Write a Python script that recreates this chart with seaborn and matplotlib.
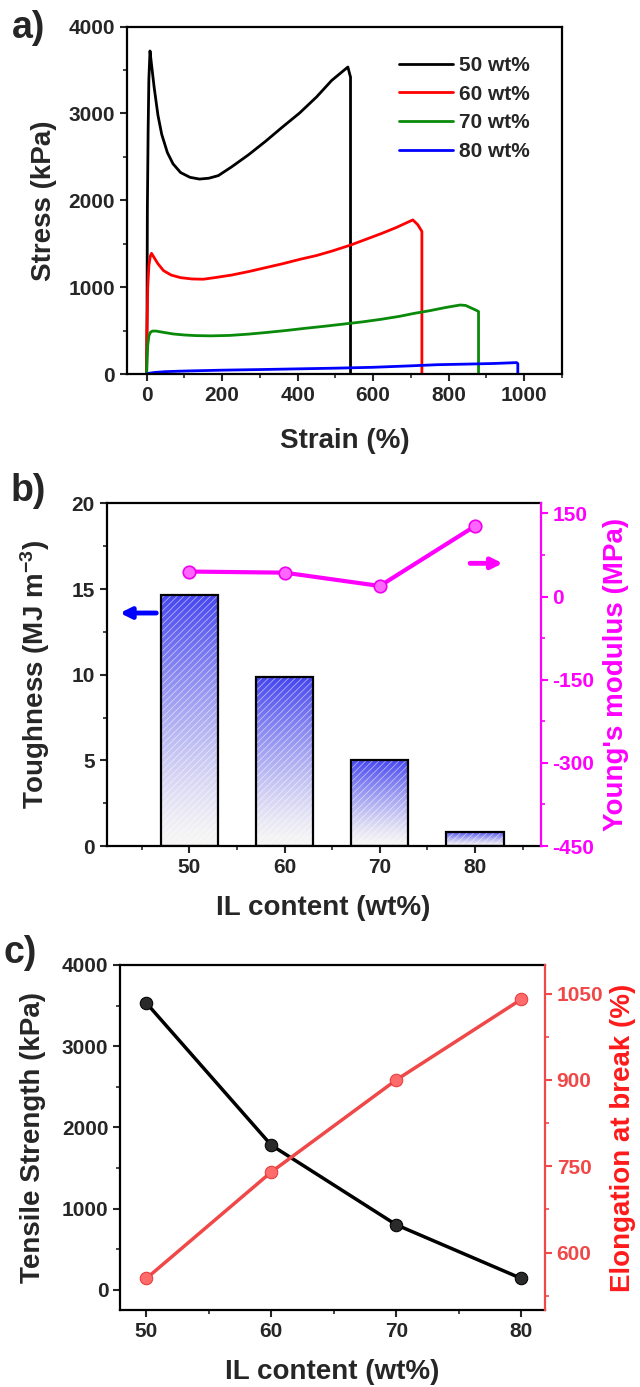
import numpy as np
import pandas as pd
import matplotlib
matplotlib.use("Agg")
import matplotlib.pyplot as plt
from matplotlib.ticker import MultipleLocator
import seaborn as sns

# ---------------- data ----------------
strain_50 = [0, 1, 2, 4, 6, 9, 12, 20, 30, 40, 55, 70, 90, 115, 140, 165, 190, 225, 270, 315, 360, 405, 450, 490, 515, 533, 538, 540, 540]
stress_50 = [0, 600, 1900, 2800, 3400, 3720, 3600, 3300, 2980, 2760, 2550, 2420, 2320, 2265, 2245, 2255, 2285, 2385, 2525, 2680, 2845, 3005, 3190, 3380, 3470, 3535, 3450, 3420, 0]

strain_60 = [0, 1, 3, 6, 10, 13, 20, 30, 45, 65, 90, 120, 150, 180, 225, 270, 315, 360, 405, 450, 490, 540, 580, 620, 660, 705, 718, 728, 729, 729]
stress_60 = [0, 500, 1000, 1250, 1360, 1390, 1340, 1270, 1190, 1140, 1110, 1095, 1092, 1110, 1140, 1180, 1225, 1270, 1320, 1365, 1415, 1485, 1550, 1615, 1685, 1775, 1720, 1650, 1640, 0]

strain_70 = [0, 1, 3, 6, 10, 15, 25, 45, 70, 100, 130, 170, 220, 270, 320, 370, 420, 470, 520, 570, 620, 670, 710, 750, 790, 830, 845, 860, 875, 879, 879]
stress_70 = [0, 150, 330, 440, 480, 495, 495, 480, 462, 450, 443, 440, 445, 460, 480, 502, 527, 550, 575, 600, 630, 665, 700, 730, 765, 795, 790, 760, 730, 720, 0]

strain_80 = [0, 5, 20, 50, 100, 200, 300, 400, 500, 600, 700, 770, 850, 920, 968, 980, 983, 983]
stress_80 = [0, 8, 18, 28, 35, 45, 52, 60, 68, 78, 95, 108, 115, 122, 130, 132, 120, 0]

curve_labels = ["50 wt%", "60 wt%", "70 wt%", "80 wt%"]

il_content = [50, 60, 70, 80]
toughness = [14.65, 9.85, 5.05, 0.85]
modulus = [45, 43, 19, 127]
tensile = [3530, 1780, 800, 140]
elongation = [555, 740, 900, 1040]

# ---------------- style ----------------
sns.set_style("ticks")
plt.rcParams['font.family'] = ['Liberation Sans', 'DejaVu Sans']
plt.rcParams['font.weight'] = 'bold'
plt.rcParams['axes.labelweight'] = 'bold'
plt.rcParams['axes.unicode_minus'] = False
plt.rcParams['mathtext.fontset'] = 'custom'
plt.rcParams['mathtext.rm'] = 'Liberation Sans:bold'
plt.rcParams['mathtext.default'] = 'rm'
plt.rcParams['hatch.linewidth'] = 0.6

TICK_FS = 15
LABEL_FS = 20
SPINE_W = 1.6

fig = plt.figure(figsize=(6.4, 13.87), dpi=100)
ax_a = fig.add_axes([0.1984, 0.7303, 0.6797, 0.2505])
ax_b = fig.add_axes([0.1667, 0.3900, 0.6781, 0.2471])
ax_c = fig.add_axes([0.1878, 0.0555, 0.6635, 0.2488])


def style_axis(ax):
    for s in ax.spines.values():
        s.set_linewidth(SPINE_W)
        s.set_color('black')
    ax.tick_params(which='major', direction='out', length=5, width=1.5,
                   labelsize=TICK_FS, top=False, right=False)
    ax.tick_params(which='minor', direction='out', length=3, width=1.2,
                   top=False, right=False)
    for lab in ax.get_xticklabels() + ax.get_yticklabels():
        lab.set_fontweight('bold')

# ---------------- panel a ----------------
curves = [(strain_50, stress_50, 'black'), (strain_60, stress_60, '#ff0000'),
          (strain_70, stress_70, '#0a8a0a'), (strain_80, stress_80, '#0000ff')]
for (sx, sy, col), lab in zip(curves, curve_labels):
    df = pd.DataFrame({'strain': sx, 'stress': sy})
    sns.lineplot(data=df, x='strain', y='stress', color=col, lw=2.0,
                 estimator=None, sort=False, label=lab, ax=ax_a)
ax_a.set_xlim(-52, 1100)
ax_a.set_ylim(0, 4000)
ax_a.xaxis.set_major_locator(MultipleLocator(200))
ax_a.xaxis.set_minor_locator(MultipleLocator(100))
ax_a.yaxis.set_major_locator(MultipleLocator(1000))
ax_a.yaxis.set_minor_locator(MultipleLocator(500))
ax_a.set_xlabel('Strain (%)', fontsize=LABEL_FS, labelpad=17)
ax_a.set_ylabel('Stress (kPa)', fontsize=LABEL_FS, labelpad=8)
style_axis(ax_a)
leg = ax_a.legend(loc='upper left', bbox_to_anchor=(0.625, 0.916), frameon=False,
                  fontsize=15, handlelength=2.6, handletextpad=0.3,
                  labelspacing=0.47, borderpad=0, borderaxespad=0)
for t in leg.get_texts():
    t.set_fontweight('bold')

# ---------------- panel b ----------------
dfb = pd.DataFrame({'il': il_content, 'tough': toughness})
sns.barplot(data=dfb, x='il', y='tough', native_scale=True, width=0.6,
            errorbar=None, color='white', ax=ax_b, zorder=2)
top_col = np.array([0.27, 0.27, 0.94])
bot_col = np.array([0.97, 0.965, 0.96])
for p in list(ax_b.patches):
    x0, y0 = p.get_x(), p.get_y()
    w, h = p.get_width(), p.get_height()
    t = np.linspace(0, 1, 256) ** 1.3
    grad = bot_col[None, :] + (top_col - bot_col)[None, :] * t[:, None]
    img = ax_b.imshow(grad[:, None, :], extent=[x0, x0 + w, y0, y0 + h],
                      origin='lower', aspect='auto', zorder=1.5)
    img.set_clip_path(p)
    p.set_facecolor('none')
    p.set_edgecolor('black')
    p.set_linewidth(1.6)
    p.set_zorder(3)
    ax_b.add_patch(plt.Rectangle((x0, y0), w, h, facecolor='none',
                                 edgecolor='white', lw=0, hatch='/////',
                                 alpha=0.55, zorder=2))
ax_b.set_xlim(41.3, 86.9)
ax_b.set_ylim(0, 20)
ax_b.set_xticks(il_content)
ax_b.set_xticks([45, 55, 65, 75, 85], minor=True)
ax_b.yaxis.set_major_locator(MultipleLocator(5))
ax_b.yaxis.set_minor_locator(MultipleLocator(2.5))
ax_b.set_xlabel('IL content (wt%)', fontsize=LABEL_FS, labelpad=13)
ax_b.set_ylabel('Toughness (MJ m$^{-3}$)', fontsize=LABEL_FS, labelpad=14)
style_axis(ax_b)

ax_b2 = ax_b.twinx()
dfm = pd.DataFrame({'il': il_content, 'mod': modulus})
sns.lineplot(data=dfm, x='il', y='mod', color='#ff00ff', lw=3, marker='o',
             markersize=9, markerfacecolor='#ff66ff', markeredgecolor='#ee00ee',
             markeredgewidth=1.2, ax=ax_b2)
ax_b2.set_ylim(-450, 168)
ax_b2.yaxis.set_major_locator(MultipleLocator(150))
ax_b2.yaxis.set_minor_locator(MultipleLocator(75))
ax_b2.set_ylabel("Young's modulus (MPa)", fontsize=LABEL_FS, color='#ff00ff', labelpad=6)
for s in ax_b2.spines.values():
    s.set_linewidth(SPINE_W)
ax_b2.spines['right'].set_color('#ff00ff')
ax_b2.spines['left'].set_visible(False)
ax_b2.spines['top'].set_visible(False)
ax_b2.spines['bottom'].set_visible(False)
ax_b.spines['right'].set_visible(False)
ax_b2.tick_params(axis='y', which='major', direction='out', length=5, width=1.5,
                  labelsize=TICK_FS, colors='#ff00ff')
ax_b2.tick_params(axis='y', which='minor', direction='out', length=3, width=1.2,
                  colors='#ff00ff')
for lab in ax_b2.get_yticklabels():
    lab.set_fontweight('bold')
ax_b2.set_xlim(41.3, 86.9)
ax_b.annotate('', xy=(42.4, 13.6), xytext=(46.8, 13.6),
              arrowprops=dict(arrowstyle='-|>', color='#0000ff', lw=3.5,
                              mutation_scale=16), zorder=5)
ax_b.annotate('', xy=(83.2, 16.5), xytext=(79.2, 16.5),
              arrowprops=dict(arrowstyle='-|>', color='#ff00ff', lw=3.5,
                              mutation_scale=16), zorder=5)

# ---------------- panel c ----------------
dfc = pd.DataFrame({'il': il_content, 'ts': tensile, 'el': elongation})
sns.lineplot(data=dfc, x='il', y='ts', color='black', lw=2.5, marker='o',
             markersize=9, markerfacecolor='#2a2a2a', markeredgecolor='black',
             ax=ax_c, zorder=3)
ax_c.set_xlim(47.9, 81.9)
ax_c.set_ylim(-250, 4000)
ax_c.set_xticks(il_content)
ax_c.set_xticks([55, 65, 75], minor=True)
ax_c.yaxis.set_major_locator(MultipleLocator(1000))
ax_c.yaxis.set_minor_locator(MultipleLocator(500))
ax_c.set_xlabel('IL content (wt%)', fontsize=LABEL_FS, labelpad=13)
ax_c.set_ylabel('Tensile Strength (kPa)', fontsize=LABEL_FS, labelpad=11)
style_axis(ax_c)

ax_c2 = ax_c.twinx()
sns.lineplot(data=dfc, x='il', y='el', color='#f04848', lw=2.5, marker='o',
             markersize=9, markerfacecolor='#ff6a6a', markeredgecolor='#e83a3a',
             ax=ax_c2)
ax_c2.set_ylim(500, 1100)
ax_c2.yaxis.set_major_locator(MultipleLocator(150))
ax_c2.yaxis.set_minor_locator(MultipleLocator(75))
ax_c2.set_ylabel('Elongation at break (%)', fontsize=LABEL_FS, color='#ff1a1a', labelpad=5)
for s in ax_c2.spines.values():
    s.set_linewidth(SPINE_W)
ax_c2.spines['right'].set_color('#f04848')
for k in ['left', 'top', 'bottom']:
    ax_c2.spines[k].set_visible(False)
ax_c.spines['right'].set_visible(False)
ax_c2.tick_params(axis='y', which='major', direction='out', length=5, width=1.5,
                  labelsize=TICK_FS, colors='#f04848')
ax_c2.tick_params(axis='y', which='minor', direction='out', length=3, width=1.2,
                  colors='#f04848')
for lab in ax_c2.get_yticklabels():
    lab.set_fontweight('bold')
ax_c2.set_xlim(47.9, 81.9)

# panel letters
fig.text(0.019, 0.993, 'a)', fontsize=27, fontweight='bold', va='top', ha='left')
fig.text(0.016, 0.659, 'b)', fontsize=27, fontweight='bold', va='top', ha='left')
fig.text(0.006, 0.326, 'c)', fontsize=27, fontweight='bold', va='top', ha='left')

fig.savefig('out.png', dpi=100)
